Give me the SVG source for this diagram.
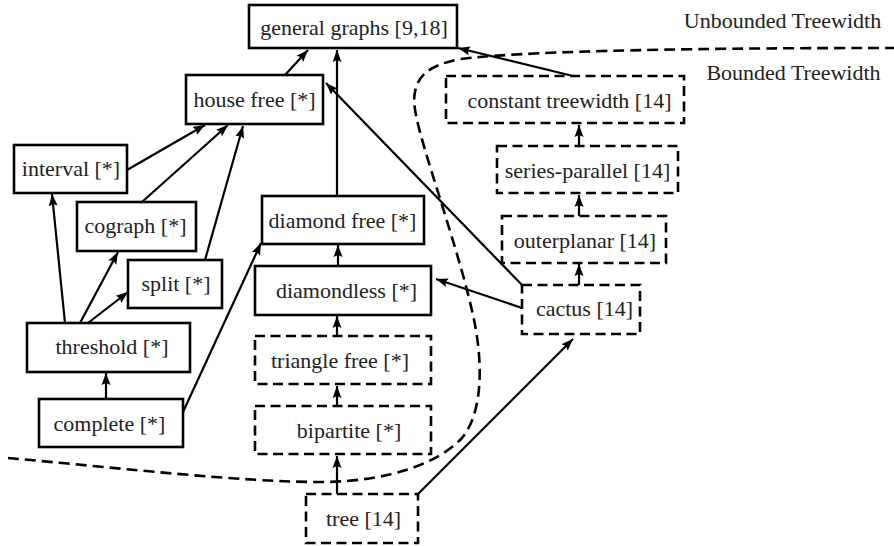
<svg xmlns="http://www.w3.org/2000/svg" width="894" height="546" viewBox="0 0 894 546">
<style>
text{font-size:22px;fill:#222;text-anchor:middle}
.b{fill:#fff;stroke:#000;stroke-width:2.6}
.d{fill:#fff;stroke:#000;stroke-width:2.6;stroke-dasharray:10 5.5}
.e{stroke:#000;stroke-width:2.2;fill:none;marker-end:url(#ah)}
.bd{fill:none;stroke:#000;stroke-width:2.6;stroke-dasharray:11 6}
</style>
<defs>
<marker id="ah" markerUnits="userSpaceOnUse" markerWidth="14" markerHeight="12" viewBox="0 0 14 12" refX="12" refY="6" orient="auto">
<path d="M0,1.5 L12,6 L0,10.5 L2,6 Z" fill="#000"/>
</marker>
</defs>
<path class="bd" d="M8,458 C120,468 240,482 320,482 C390,482 440,462 462,438 C485,410 482,355 473,315 C462,265 440,200 425,150 C418,125 412,105 415,92 C418,75 430,65 460,59 C520,52 650,48 894,48"/>
<text x="782.5" y="28" font-family="Liberation Serif">Unbounded Treewidth</text>
<text x="793.5" y="80" font-family="Liberation Serif">Bounded Treewidth</text>
<g id="edges">
<line class="e" x1="285" y1="75" x2="308" y2="50"/>
<line class="e" x1="337" y1="196" x2="337" y2="50"/>
<line class="e" x1="573" y1="76" x2="458" y2="48"/>
<line class="e" x1="522" y1="285" x2="326" y2="83"/>
<line class="e" x1="522" y1="308" x2="436" y2="279"/>
<line class="e" x1="127" y1="170" x2="205" y2="125"/>
<line class="e" x1="142" y1="202" x2="228" y2="125"/>
<line class="e" x1="205" y1="260" x2="243" y2="126"/>
<line class="e" x1="65" y1="323" x2="52" y2="194"/>
<line class="e" x1="80" y1="323" x2="118" y2="252"/>
<line class="e" x1="88" y1="323" x2="128" y2="292"/>
<line class="e" x1="106" y1="399" x2="106" y2="373"/>
<line class="e" x1="183" y1="412" x2="261" y2="243"/>
<line class="e" x1="338" y1="266" x2="338" y2="245"/>
<line class="e" x1="337" y1="336" x2="337" y2="316"/>
<line class="e" x1="337" y1="406" x2="337" y2="386"/>
<line class="e" x1="337" y1="494" x2="337" y2="456"/>
<line class="e" x1="418" y1="494" x2="573" y2="339"/>
<line class="e" x1="579" y1="146" x2="579" y2="125"/>
<line class="e" x1="579" y1="216" x2="579" y2="195"/>
<line class="e" x1="579" y1="285" x2="579" y2="264"/>
</g>
<g id="general"><rect class="b" x="249" y="5" width="208" height="43"/><text x="354" y="35" font-family="Liberation Serif">general graphs [9,18]</text></g>
<g id="housefree"><rect class="b" x="186" y="75" width="137" height="49"/><text x="254.5" y="107" font-family="Liberation Serif">house free [*]</text></g>
<g id="interval"><rect class="b" x="14" y="145" width="113" height="48"/><text x="71" y="176" font-family="Liberation Serif">interval [*]</text></g>
<g id="cograph"><rect class="b" x="77" y="202" width="119" height="49"/><text x="135.5" y="233" font-family="Liberation Serif">cograph [*]</text></g>
<g id="split"><rect class="b" x="128" y="260" width="94" height="48"/><text x="176" y="291" font-family="Liberation Serif">split [*]</text></g>
<g id="threshold"><rect class="b" x="27" y="323" width="163" height="49"/><text x="112" y="354" font-family="Liberation Serif">threshold [*]</text></g>
<g id="complete"><rect class="b" x="39" y="399" width="144" height="48"/><text x="109.5" y="431" font-family="Liberation Serif">complete [*]</text></g>
<g id="diamondfree"><rect class="b" x="262" y="196" width="162" height="48"/><text x="342.5" y="228" font-family="Liberation Serif">diamond free [*]</text></g>
<g id="diamondless"><rect class="b" x="255" y="266" width="176" height="49"/><text x="346.5" y="298" font-family="Liberation Serif">diamondless [*]</text></g>
<g id="trianglefree"><rect class="d" x="255" y="336" width="176" height="48"/><text x="340" y="368" font-family="Liberation Serif">triangle free [*]</text></g>
<g id="bipartite"><rect class="d" x="255" y="406" width="176" height="48"/><text x="349" y="438" font-family="Liberation Serif">bipartite [*]</text></g>
<g id="tree"><rect class="d" x="306" y="494" width="112" height="49"/><text x="363.5" y="526" font-family="Liberation Serif">tree [14]</text></g>
<g id="constant"><rect class="d" x="446" y="76" width="238" height="47"/><text x="569.5" y="108" font-family="Liberation Serif">constant treewidth [14]</text></g>
<g id="seriesparallel"><rect class="d" x="497" y="146" width="181" height="47"/><text x="587.5" y="178" font-family="Liberation Serif">series-parallel [14]</text></g>
<g id="outerplanar"><rect class="d" x="502" y="216" width="164" height="47"/><text x="585" y="248" font-family="Liberation Serif">outerplanar [14]</text></g>
<g id="cactus"><rect class="d" x="522" y="285" width="118" height="49"/><text x="584.5" y="316" font-family="Liberation Serif">cactus [14]</text></g>
</svg>
